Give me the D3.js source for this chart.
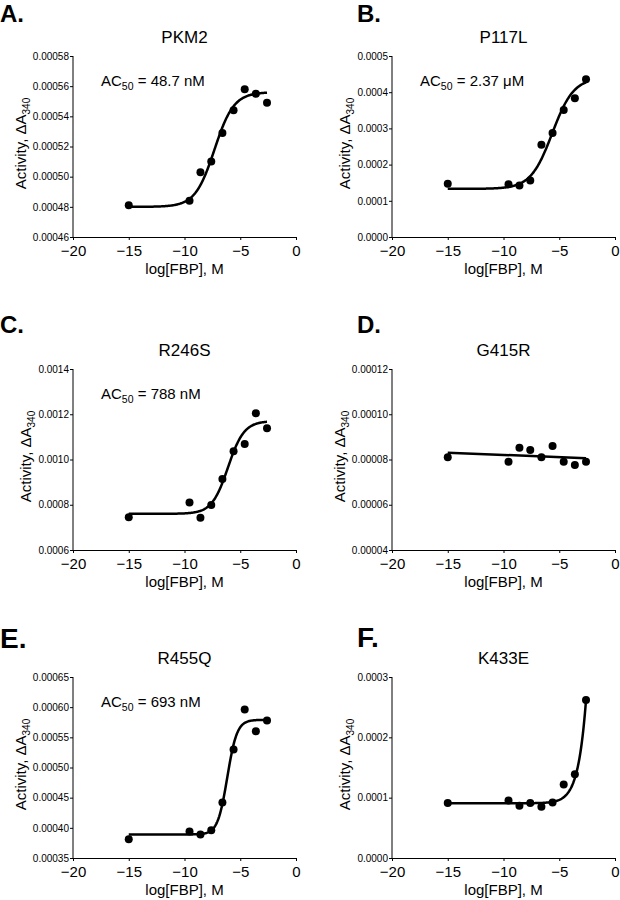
<!doctype html>
<html lang="en">
<head>
<meta charset="utf-8">
<title>FBP activation of PKM2 mutants</title>
<style>
  body { margin: 0; background: #fff; }
  svg { display: block; font-family: "Liberation Sans", Arial, sans-serif; }
  .axis path, .axis line { stroke: #000; stroke-width: 1; }
  .axis text { fill: #000; }
</style>
</head>
<body>
<svg id="fig" width="620" height="900"></svg>
<script src="https://cdn.jsdelivr.net/npm/d3@7"></script>
<script>
  // log[FBP] used for every panel
  const logFBP = [-15, -9.55, -8.57, -7.6, -6.6, -5.6, -4.6, -3.6, -2.6]

  const panelLetters = ['A.', 'B.', 'C.', 'D.', 'E.', 'F.']
  const panelTitles = ['PKM2', 'P117L', 'R246S', 'G415R', 'R455Q', 'K433E']
  const ac50Values = ['48.7 nM', '2.37 \u03bcM', '788 nM', null, '693 nM', null]

  // measured activity, one array per panel
  const actPKM2 = [0.000481, 0.000484, 0.000503, 0.000510, 0.000529, 0.000544, 0.000558, 0.000555, 0.000549]
  const actP117L = [0.000147, 0.000146, 0.000142, 0.000156, 0.000255, 0.000287, 0.000351, 0.000383, 0.000436]
  const actR246S = [0.000745, 0.000810, 0.000742, 0.000799, 0.000914, 0.001036, 0.001068, 0.001204, 0.001138]
  const actG415R = [0.0000810, 0.0000790, 0.0000852, 0.0000842, 0.0000810, 0.0000860, 0.0000790, 0.0000776, 0.0000790]
  const actR455Q = [0.000381, 0.000394, 0.000389, 0.000396, 0.000442, 0.000530, 0.000596, 0.000560, 0.000578]
  const actK433E = [0.0000910, 0.0000954, 0.0000865, 0.0000910, 0.0000849, 0.0000920, 0.000122, 0.000139, 0.000262]
  const activity = [actPKM2, actP117L, actR246S, actG415R, actR455Q, actK433E]

  // fitted curves (4-parameter logistic; G415R is a straight line)
  const fitBottom = [0.000480, 0.000133, 0.000760, null, 0.000389, 0.0000907]
  const fitTop = [0.000556, 0.000440, 0.001170, null, 0.000579, 0.00725]
  const fitLogEC50 = [-7.31, -5.63, -6.10, null, -6.16, 0]
  const fitHill = [0.5, 0.45, 0.6, null, 1.0, 0.62]
  const lineEnds = [null, null, null, [0.0000830, 0.0000806], null, null]
  const fitRange = [-15, -2.6]

  // axes
  const xDomain = [-20, 0]
  const xTicks = [-20, -15, -10, -5, 0]
  const yDomains = [
    [0.00046, 0.00058], [0, 0.0005], [0.0006, 0.0014],
    [0.00004, 0.00012], [0.00035, 0.00065], [0, 0.0003]
  ]
  const yTicks = [
    [0.00046, 0.00048, 0.00050, 0.00052, 0.00054, 0.00056, 0.00058],
    [0, 0.0001, 0.0002, 0.0003, 0.0004, 0.0005],
    [0.0006, 0.0008, 0.0010, 0.0012, 0.0014],
    [0.00004, 0.00006, 0.00008, 0.00010, 0.00012],
    [0.00035, 0.00040, 0.00045, 0.00050, 0.00055, 0.00060, 0.00065],
    [0, 0.0001, 0.0002, 0.0003]
  ]
  const yDecimals = [5, 4, 4, 5, 5, 4]

  // layout
  const colX = [73, 392]
  const rowY = [56, 369, 677]
  const plotW = 223
  const plotH = 181
  const letterPos = [[0, 22, 24], [357, 22, 24], [0, 333, 24], [357, 333, 24], [0, 648, 28], [357, 647, 28]]

  const svg = d3.select('#fig')

  function fourPL(i, x) {
    return fitBottom[i] + (fitTop[i] - fitBottom[i]) / (1 + Math.pow(10, (fitLogEC50[i] - x) * fitHill[i]))
  }

  panelTitles.forEach((title, i) => {
    const x0 = colX[i % 2]
    const y0 = rowY[Math.floor(i / 2)]

    svg.append('text')
      .attr('x', letterPos[i][0])
      .attr('y', letterPos[i][1])
      .attr('font-size', letterPos[i][2])
      .attr('font-weight', 'bold')
      .text(panelLetters[i])

    const g = svg.append('g').attr('transform', `translate(${x0},${y0})`)

    const x = d3.scaleLinear().domain(xDomain).range([0, plotW])
    const y = d3.scaleLinear().domain(yDomains[i]).range([plotH, 0])

    g.append('g')
      .attr('class', 'axis')
      .attr('transform', `translate(0,${plotH})`)
      .call(d3.axisBottom(x).tickValues(xTicks).tickSizeInner(3).tickSizeOuter(0).tickPadding(5).tickFormat(d3.format('d')))
      .attr('font-size', 15)
      .attr('font-family', null)

    const yAxis = g.append('g')
      .attr('class', 'axis')
      .call(d3.axisLeft(y).tickValues(yTicks[i]).tickSizeInner(3).tickSizeOuter(0).tickPadding(1)
        .tickFormat(d3.format(`.${yDecimals[i]}f`)))
      .attr('font-size', 10)
      .attr('font-family', null)
    yAxis.select('.domain').attr('d', `M0,${plotH}V0`)

    const labelX = yAxis.node().getBBox().x - 7

    const yl = g.append('text')
      .attr('transform', `translate(${labelX},${plotH / 2 - 3}) rotate(-90)`)
      .attr('text-anchor', 'middle')
      .attr('font-size', 15)
    yl.append('tspan').text('Activity, \u0394A')
    yl.append('tspan').attr('font-size', 10).attr('dy', 4).text('340')

    g.append('text')
      .attr('x', plotW / 2)
      .attr('y', plotH + 37)
      .attr('text-anchor', 'middle')
      .attr('font-size', 15)
      .text('log[FBP], M')

    g.append('text')
      .attr('x', plotW / 2)
      .attr('y', -13)
      .attr('text-anchor', 'middle')
      .attr('font-size', 17)
      .text(title)

    if (ac50Values[i]) {
      const t = g.append('text')
        .attr('x', 28)
        .attr('y', 30)
        .attr('font-size', 15)
      t.append('tspan').text('AC')
      t.append('tspan').attr('font-size', 10.5).attr('dy', 4).text('50')
      t.append('tspan').attr('dy', -4).text(' = ' + ac50Values[i])
    }

    let curve
    if (lineEnds[i]) {
      curve = fitRange.map((xv, k) => [xv, lineEnds[i][k]])
    } else {
      curve = d3.range(fitRange[0], fitRange[1] + 0.001, 0.05).map(xv => [xv, fourPL(i, xv)])
    }

    g.append('path')
      .datum(curve)
      .attr('fill', 'none')
      .attr('stroke', '#000')
      .attr('stroke-width', 2.5)
      .attr('d', d3.line().x(d => x(d[0])).y(d => y(d[1])))

    g.selectAll('circle.pt')
      .data(activity[i])
      .enter()
      .append('circle')
        .attr('class', 'pt')
        .attr('cx', (d, k) => x(logFBP[k]))
        .attr('cy', d => y(d))
        .attr('r', 4)
        .attr('fill', '#000')
  })
</script>
</body>
</html>
